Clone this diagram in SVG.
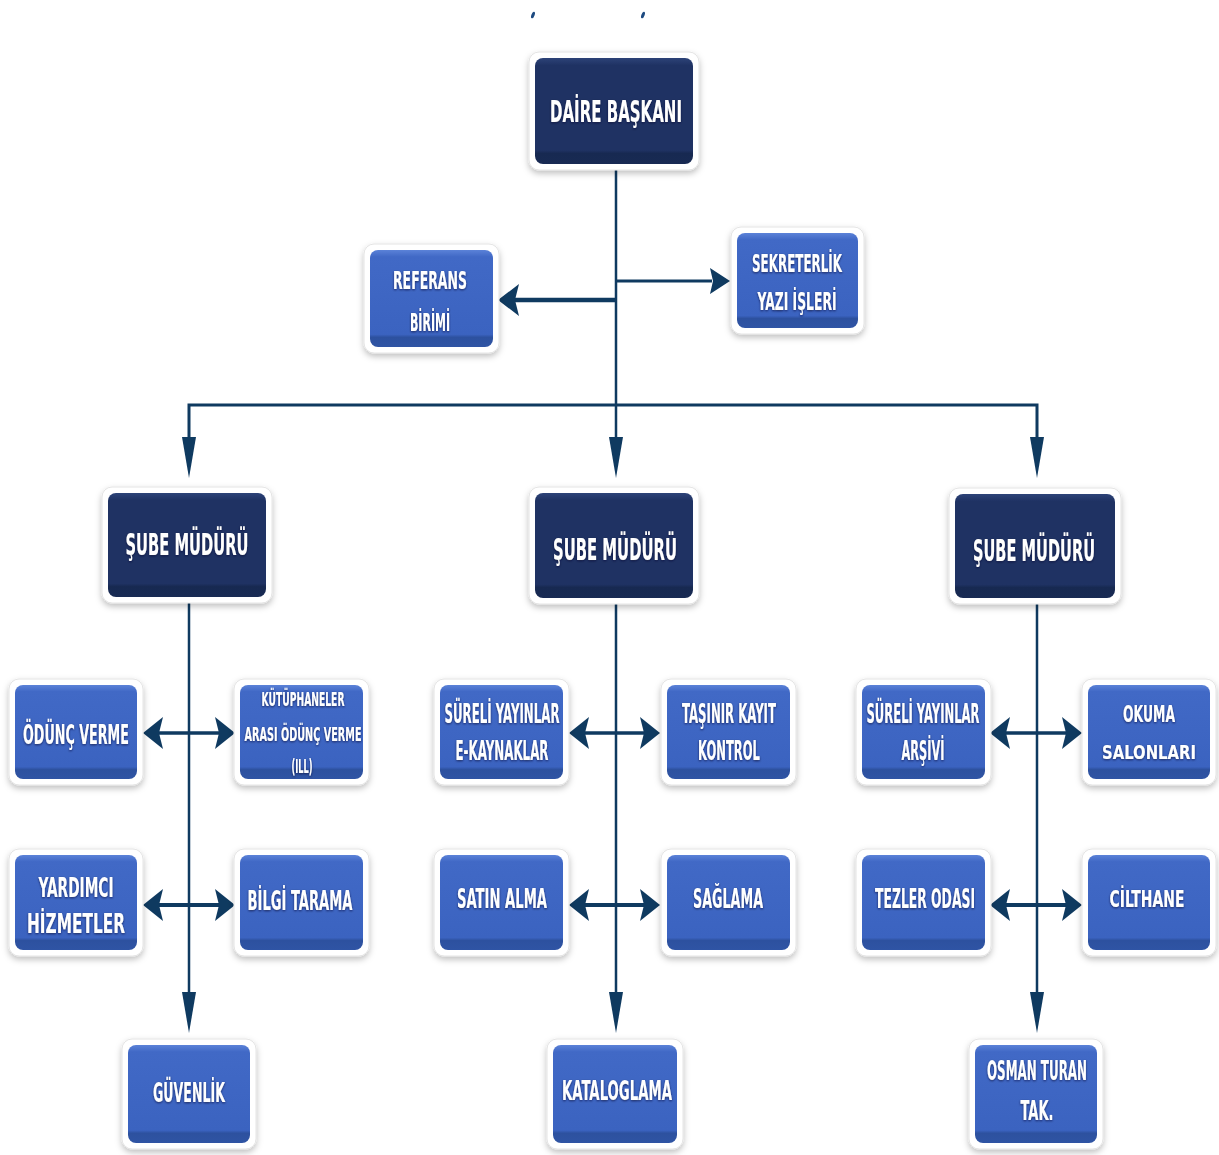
<svg xmlns="http://www.w3.org/2000/svg" width="1219" height="1155" viewBox="0 0 1219 1155">
<defs>
<linearGradient id="gDark" x1="0" y1="0" x2="0" y2="1">
<stop offset="0" stop-color="#2d4378"/><stop offset="0.07" stop-color="#1f3263"/><stop offset="0.87" stop-color="#1f3263"/><stop offset="0.9" stop-color="#172951"/><stop offset="1" stop-color="#182a53"/>
</linearGradient>
<linearGradient id="gBlue" x1="0" y1="0" x2="0" y2="1">
<stop offset="0" stop-color="#5b82d8"/><stop offset="0.07" stop-color="#4169c6"/><stop offset="0.87" stop-color="#3b63c0"/><stop offset="0.9" stop-color="#2d519f"/><stop offset="1" stop-color="#2f54a4"/>
</linearGradient>
<filter id="sh" x="-20%" y="-20%" width="140%" height="150%">
<feDropShadow dx="0" dy="3" stdDeviation="3" flood-color="#000" flood-opacity="0.25"/>
</filter>
<filter id="ts" x="-10%" y="-30%" width="120%" height="160%">
<feDropShadow dx="0" dy="1" stdDeviation="0.8" flood-color="#0a1430" flood-opacity="0.7"/>
</filter>
<style>
.frame{fill:#ffffff;stroke:#e4e4e4;stroke-width:1;filter:url(#sh)}
.dark{fill:url(#gDark)}
.blue{fill:url(#gBlue)}
.t{fill:#ffffff;font-family:"DejaVu Sans Condensed","DejaVu Sans","Liberation Sans",sans-serif;font-weight:bold;text-anchor:middle;filter:url(#ts)}
.big{font-size:30px}
.mid{font-size:27px}
.rt{font-size:23px}
.sm{font-size:25px}
.xs{font-size:19px}
.ln{stroke:#0f3a60;fill:none}
.ah{fill:#0f3a60}
</style>
</defs>
<rect width="1219" height="1155" fill="#ffffff"/>
<ellipse cx="533" cy="15" rx="1.6" ry="3.5" transform="rotate(20 533 15)" fill="#1d4a80"/>
<ellipse cx="643" cy="15" rx="1.6" ry="3.5" transform="rotate(20 643 15)" fill="#1d4a80"/>

<g id="connectors">
<line class="ln" x1="616" y1="164" x2="616" y2="440" stroke-width="2.5"/>
<polyline class="ln" points="189,440 189,405 1037,405 1037,440" stroke-width="3"/>
<polygon class="ah" points="609,437 623,437 616,478"/>
<polygon class="ah" points="182,437 196,437 189,478"/>
<polygon class="ah" points="1030,437 1044,437 1037,478"/>
<line class="ln" x1="514" y1="300" x2="616" y2="300" stroke-width="4.5"/>
<polygon class="ah" points="498,300 519,284 515,300 519,316"/>
<line class="ln" x1="616" y1="281" x2="712" y2="281" stroke-width="3"/>
<polygon class="ah" points="730,281 710,268 713,281 710,294"/>

<line class="ln" x1="189" y1="598" x2="189" y2="995" stroke-width="2.5"/>
<polygon class="ah" points="182,992 196,992 189,1033"/>
<line class="ln" x1="616" y1="598" x2="616" y2="995" stroke-width="2.5"/>
<polygon class="ah" points="609,992 623,992 616,1033"/>
<line class="ln" x1="1037" y1="598" x2="1037" y2="995" stroke-width="2.5"/>
<polygon class="ah" points="1030,992 1044,992 1037,1033"/>

<line class="ln" x1="158" y1="733" x2="220" y2="733" stroke-width="3.5"/>
<polygon class="ah" points="143,733 163,717 159,733 163,749"/>
<polygon class="ah" points="235,733 215,717 219,733 215,749"/>
<line class="ln" x1="158" y1="905" x2="220" y2="905" stroke-width="4"/>
<polygon class="ah" points="143,905 163,889 159,905 163,921"/>
<polygon class="ah" points="235,905 215,889 219,905 215,921"/>

<line class="ln" x1="584" y1="733" x2="645" y2="733" stroke-width="3.5"/>
<polygon class="ah" points="569,733 589,717 585,733 589,749"/>
<polygon class="ah" points="660,733 640,717 644,733 640,749"/>
<line class="ln" x1="584" y1="905" x2="645" y2="905" stroke-width="4"/>
<polygon class="ah" points="569,905 589,889 585,905 589,921"/>
<polygon class="ah" points="660,905 640,889 644,905 640,921"/>

<line class="ln" x1="1005" y1="733" x2="1067" y2="733" stroke-width="3.5"/>
<polygon class="ah" points="990,733 1010,717 1006,733 1010,749"/>
<polygon class="ah" points="1082,733 1062,717 1066,733 1062,749"/>
<line class="ln" x1="1005" y1="905" x2="1067" y2="905" stroke-width="4"/>
<polygon class="ah" points="990,905 1010,889 1006,905 1010,921"/>
<polygon class="ah" points="1082,905 1062,889 1066,905 1062,921"/>
</g>

<g id="daire-baskani">
<rect class="frame" x="529" y="52" width="170" height="118" rx="10"/>
<rect class="dark" x="535" y="58" width="158" height="106" rx="8"/>
<text class="t big" x="616" y="122" textLength="132" lengthAdjust="spacingAndGlyphs">DAİRE BAŞKANI</text>
</g>

<g id="referans-birimi">
<rect class="frame" x="364" y="244" width="135" height="109" rx="10"/>
<rect class="blue" x="370" y="250" width="123" height="97" rx="8"/>
<text class="t sm" x="430" y="289" textLength="74" lengthAdjust="spacingAndGlyphs">REFERANS</text>
<text class="t sm" x="430" y="331" textLength="40" lengthAdjust="spacingAndGlyphs">BİRİMİ</text>
</g>

<g id="sekreterlik">
<rect class="frame" x="731" y="227" width="133" height="107" rx="10"/>
<rect class="blue" x="737" y="233" width="121" height="95" rx="8"/>
<text class="t sm" x="797" y="272" textLength="90" lengthAdjust="spacingAndGlyphs">SEKRETERLİK</text>
<text class="t sm" x="797" y="310" textLength="79" lengthAdjust="spacingAndGlyphs">YAZI İŞLERİ</text>
</g>

<g id="sube-muduru-1">
<rect class="frame" x="102" y="487" width="170" height="116" rx="10"/>
<rect class="dark" x="108" y="493" width="158" height="104" rx="8"/>
<text class="t big" x="187" y="555" textLength="123" lengthAdjust="spacingAndGlyphs">ŞUBE MÜDÜRÜ</text>
</g>

<g id="sube-muduru-2">
<rect class="frame" x="529" y="487" width="170" height="117" rx="10"/>
<rect class="dark" x="535" y="493" width="158" height="105" rx="8"/>
<text class="t big" x="615" y="560" textLength="124" lengthAdjust="spacingAndGlyphs">ŞUBE MÜDÜRÜ</text>
</g>

<g id="sube-muduru-3">
<rect class="frame" x="949" y="488" width="172" height="116" rx="10"/>
<rect class="dark" x="955" y="494" width="160" height="104" rx="8"/>
<text class="t big" x="1034" y="561" textLength="122" lengthAdjust="spacingAndGlyphs">ŞUBE MÜDÜRÜ</text>
</g>

<g id="odunc-verme">
<rect class="frame" x="9" y="679" width="134" height="106" rx="10"/>
<rect class="blue" x="15" y="685" width="122" height="94" rx="8"/>
<text class="t mid" x="76" y="744" textLength="106" lengthAdjust="spacingAndGlyphs">ÖDÜNÇ VERME</text>
</g>

<g id="kutuphaneler-arasi">
<rect class="frame" x="234" y="679" width="135" height="106" rx="10"/>
<rect class="blue" x="240" y="685" width="123" height="94" rx="8"/>
<text class="t xs" x="303" y="706" textLength="83" lengthAdjust="spacingAndGlyphs">KÜTÜPHANELER</text>
<text class="t xs" x="303" y="741" textLength="117" lengthAdjust="spacingAndGlyphs">ARASI ÖDÜNÇ VERME</text>
<text class="t xs" x="302" y="773" textLength="21" lengthAdjust="spacingAndGlyphs">(ILL)</text>
</g>

<g id="yardimci-hizmetler">
<rect class="frame" x="9" y="849" width="134" height="107" rx="10"/>
<rect class="blue" x="15" y="855" width="122" height="95" rx="8"/>
<text class="t mid" x="76" y="897" textLength="75" lengthAdjust="spacingAndGlyphs">YARDIMCI</text>
<text class="t mid" x="76" y="933" textLength="98" lengthAdjust="spacingAndGlyphs">HİZMETLER</text>
</g>

<g id="bilgi-tarama">
<rect class="frame" x="234" y="849" width="135" height="107" rx="10"/>
<rect class="blue" x="240" y="855" width="123" height="95" rx="8"/>
<text class="t mid" x="300" y="910" textLength="105" lengthAdjust="spacingAndGlyphs">BİLGİ TARAMA</text>
</g>

<g id="sureli-e-kaynaklar">
<rect class="frame" x="434" y="679" width="135" height="106" rx="10"/>
<rect class="blue" x="440" y="685" width="123" height="94" rx="8"/>
<text class="t mid" x="502" y="723" textLength="115" lengthAdjust="spacingAndGlyphs">SÜRELİ YAYINLAR</text>
<text class="t mid" x="502" y="760" textLength="93" lengthAdjust="spacingAndGlyphs">E-KAYNAKLAR</text>
</g>

<g id="tasinir-kayit">
<rect class="frame" x="661" y="679" width="135" height="106" rx="10"/>
<rect class="blue" x="667" y="685" width="123" height="94" rx="8"/>
<text class="t mid" x="729" y="723" textLength="94" lengthAdjust="spacingAndGlyphs">TAŞINIR KAYIT</text>
<text class="t mid" x="729" y="760" textLength="62" lengthAdjust="spacingAndGlyphs">KONTROL</text>
</g>

<g id="satin-alma">
<rect class="frame" x="434" y="849" width="135" height="107" rx="10"/>
<rect class="blue" x="440" y="855" width="123" height="95" rx="8"/>
<text class="t mid" x="502" y="908" textLength="90" lengthAdjust="spacingAndGlyphs">SATIN ALMA</text>
</g>

<g id="saglama">
<rect class="frame" x="661" y="849" width="135" height="107" rx="10"/>
<rect class="blue" x="667" y="855" width="123" height="95" rx="8"/>
<text class="t mid" x="728" y="908" textLength="70" lengthAdjust="spacingAndGlyphs">SAĞLAMA</text>
</g>

<g id="sureli-arsivi">
<rect class="frame" x="856" y="679" width="135" height="106" rx="10"/>
<rect class="blue" x="862" y="685" width="123" height="94" rx="8"/>
<text class="t mid" x="923" y="723" textLength="113" lengthAdjust="spacingAndGlyphs">SÜRELİ YAYINLAR</text>
<text class="t mid" x="923" y="760" textLength="43" lengthAdjust="spacingAndGlyphs">ARŞİVİ</text>
</g>

<g id="okuma-salonlari">
<rect class="frame" x="1082" y="679" width="134" height="106" rx="10"/>
<rect class="blue" x="1088" y="685" width="122" height="94" rx="8"/>
<text class="t rt" x="1149" y="722" textLength="52" lengthAdjust="spacingAndGlyphs">OKUMA</text>
<text class="t" style="font-size:20px" x="1149" y="759" textLength="94" lengthAdjust="spacingAndGlyphs">SALONLARI</text>
</g>

<g id="tezler-odasi">
<rect class="frame" x="856" y="849" width="135" height="107" rx="10"/>
<rect class="blue" x="862" y="855" width="123" height="95" rx="8"/>
<text class="t mid" x="925" y="908" textLength="100" lengthAdjust="spacingAndGlyphs">TEZLER ODASI</text>
</g>

<g id="cilthane">
<rect class="frame" x="1082" y="849" width="134" height="107" rx="10"/>
<rect class="blue" x="1088" y="855" width="122" height="95" rx="8"/>
<text class="t rt" x="1147" y="907" textLength="75" lengthAdjust="spacingAndGlyphs">CİLTHANE</text>
</g>

<g id="guvenlik">
<rect class="frame" x="122" y="1039" width="134" height="110" rx="10"/>
<rect class="blue" x="128" y="1045" width="122" height="98" rx="8"/>
<text class="t mid" x="189" y="1102" textLength="72" lengthAdjust="spacingAndGlyphs">GÜVENLİK</text>
</g>

<g id="kataloglama">
<rect class="frame" x="547" y="1039" width="136" height="110" rx="10"/>
<rect class="blue" x="553" y="1045" width="124" height="98" rx="8"/>
<text class="t mid" x="617" y="1100" textLength="110" lengthAdjust="spacingAndGlyphs">KATALOGLAMA</text>
</g>

<g id="osman-turan">
<rect class="frame" x="969" y="1039" width="134" height="110" rx="10"/>
<rect class="blue" x="975" y="1045" width="122" height="98" rx="8"/>
<text class="t mid" x="1037" y="1080" textLength="100" lengthAdjust="spacingAndGlyphs">OSMAN TURAN</text>
<text class="t mid" x="1037" y="1120" textLength="33" lengthAdjust="spacingAndGlyphs">TAK.</text>
</g>
</svg>
